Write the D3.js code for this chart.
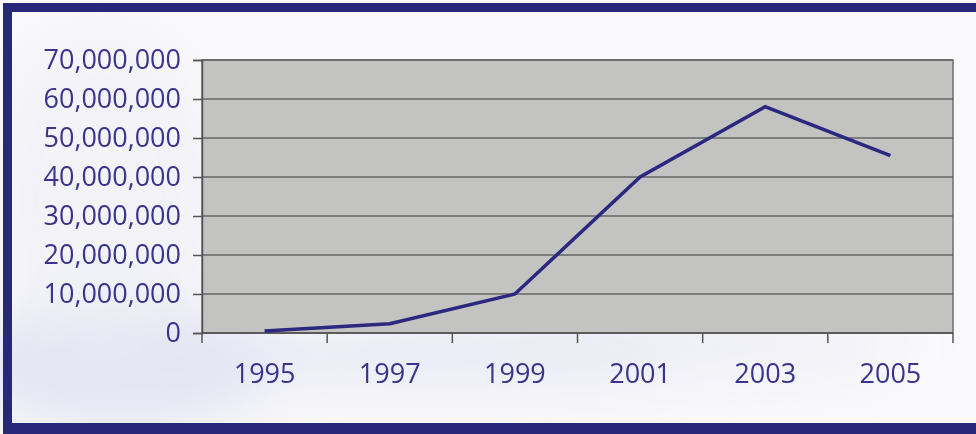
<!DOCTYPE html>
<html>
<head>
<meta charset="utf-8">
<script src="https://cdn.jsdelivr.net/npm/d3@7/dist/d3.min.js"></script>
<style>
  html, body { margin: 0; padding: 0; background: #ffffff; }
  svg { display: block; }
</style>
</head>
<body>
<script>
// Yearly totals
const years = ["1995", "1997", "1999", "2001", "2003", "2005"];
const totals = [500000, 2400000, 10000000, 40000000, 58000000, 45500000];
const yTicks = [0, 10000000, 20000000, 30000000, 40000000, 50000000, 60000000, 70000000];

const W = 976, H = 434;
const plot = { left: 202, right: 953, top: 60, bottom: 333 };
const navy = "#28287a";
const textColor = "#3b338c";
const fontFamily = "'Open Sans', 'DejaVu Sans', sans-serif";

const svg = d3.select("body").append("svg")
  .attr("width", W).attr("height", H);

const defs = svg.append("defs");
defs.append("filter").attr("id", "soft")
  .attr("x", "-50%").attr("y", "-50%").attr("width", "200%").attr("height", "200%")
  .append("feGaussianBlur").attr("stdDeviation", 28);

// Page background with a pale lavender haze toward the lower left
svg.append("rect").attr("width", W).attr("height", H).attr("fill", "#f9f9fb");
const haze = svg.append("g").attr("filter", "url(#soft)");
haze.append("ellipse").attr("cx", 120).attr("cy", 365).attr("rx", 160).attr("ry", 60)
  .attr("fill", "#dcdcf0").attr("opacity", 0.75);
haze.append("ellipse").attr("cx", 430).attr("cy", 355).attr("rx", 260).attr("ry", 35)
  .attr("fill", "#e4e4f3").attr("opacity", 0.7);
haze.append("ellipse").attr("cx", 700).attr("cy", 345).attr("rx", 200).attr("ry", 28)
  .attr("fill", "#e6e6f4").attr("opacity", 0.6);
haze.append("ellipse").attr("cx", 100).attr("cy", 200).attr("rx", 110).attr("ry", 160)
  .attr("fill", "#ececf5").attr("opacity", 0.6);

// Frame
svg.append("rect").attr("x", 3).attr("y", 3).attr("width", W - 3).attr("height", 9).attr("fill", navy);
svg.append("rect").attr("x", 3).attr("y", 3).attr("width", 9).attr("height", H - 3).attr("fill", navy);
svg.append("rect").attr("x", 3).attr("y", 423).attr("width", W - 3).attr("height", H - 423).attr("fill", navy);

// Scales
const x = d3.scaleBand().domain(years).range([plot.left, plot.right]).padding(0);
const y = d3.scaleLinear().domain([0, 70000000]).range([plot.bottom, plot.top]);

// Plot area
svg.append("rect")
  .attr("x", plot.left).attr("y", plot.top)
  .attr("width", plot.right - plot.left).attr("height", plot.bottom - plot.top)
  .attr("fill", "#c3c3c1").attr("stroke", "#6e6e6e").attr("stroke-width", 1.5);

// Horizontal gridlines
svg.append("g").selectAll("line").data(yTicks).join("line")
  .attr("x1", plot.left).attr("x2", plot.right)
  .attr("y1", d => y(d)).attr("y2", d => y(d))
  .attr("stroke", "#666666").attr("stroke-width", 1.5);

// Y axis
const yAxis = svg.append("g")
  .attr("transform", `translate(${plot.left},0)`)
  .call(d3.axisLeft(y).tickValues(yTicks).tickFormat(d3.format(",")).tickSize(9).tickPadding(12));
yAxis.select(".domain").attr("stroke", "#555555").attr("stroke-width", 1.5);
yAxis.selectAll(".tick line").attr("stroke", "#555555").attr("stroke-width", 1.5);
yAxis.selectAll(".tick text")
  .attr("fill", textColor).style("font-family", fontFamily)
  .style("font-size", "27px").style("font-weight", 500);

// X axis: baseline with tick marks at category boundaries
const boundaries = years.map(d => x(d)).concat([plot.right]);
const xAxis = svg.append("g");
xAxis.append("line")
  .attr("x1", plot.left).attr("x2", plot.right)
  .attr("y1", plot.bottom).attr("y2", plot.bottom)
  .attr("stroke", "#555555").attr("stroke-width", 1.5);
xAxis.selectAll("line.tk").data(boundaries).join("line").attr("class", "tk")
  .attr("x1", d => d).attr("x2", d => d)
  .attr("y1", plot.bottom).attr("y2", plot.bottom + 10)
  .attr("stroke", "#555555").attr("stroke-width", 1.5);
xAxis.selectAll("text").data(years).join("text")
  .attr("x", d => x(d) + x.bandwidth() / 2)
  .attr("y", 383)
  .attr("text-anchor", "middle")
  .attr("fill", textColor)
  .style("font-family", fontFamily).style("font-size", "27px").style("font-weight", 500)
  .text(d => d);

// Series line
const line = d3.line()
  .x((d, i) => x(years[i]) + x.bandwidth() / 2)
  .y(d => y(d));
svg.append("path")
  .datum(totals)
  .attr("d", line)
  .attr("fill", "none")
  .attr("stroke", "#2c2880")
  .attr("stroke-width", 3.5)
  .attr("stroke-linejoin", "miter");
</script>
</body>
</html>
